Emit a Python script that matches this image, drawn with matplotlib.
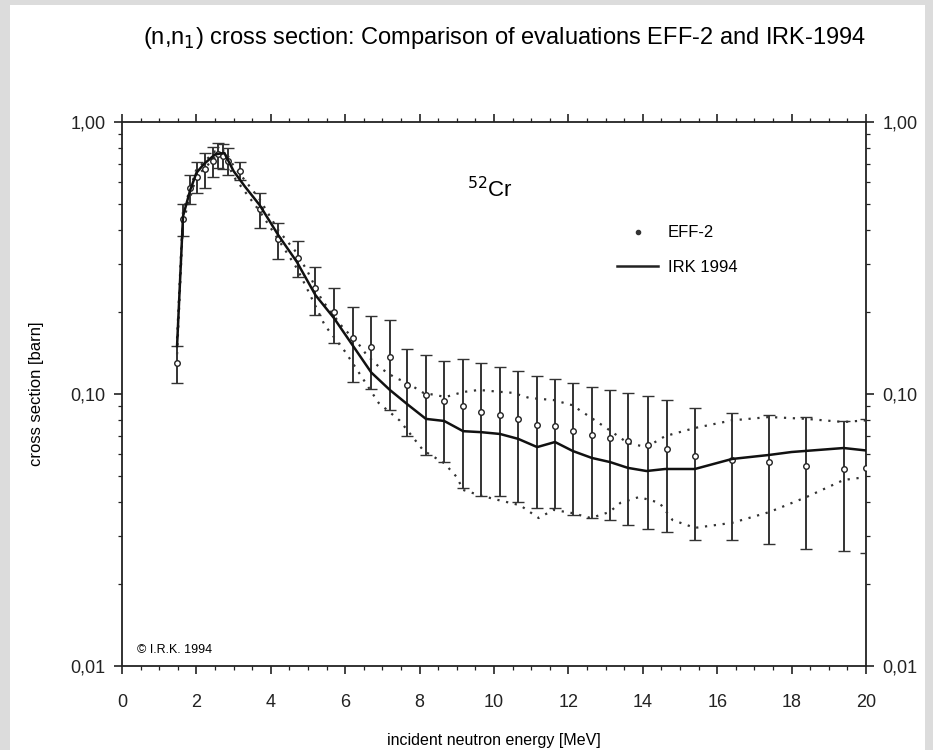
import numpy as np
import matplotlib
matplotlib.use('Agg')
import matplotlib.pyplot as plt
from matplotlib.patches import Rectangle
from matplotlib.lines import Line2D
from matplotlib.ticker import FixedLocator, FixedFormatter, MultipleLocator, LogLocator, NullFormatter

plt.rcParams['font.family'] = ['Liberation Sans', 'DejaVu Sans']

# ----------------------------------------------------------------
# EFF-2 evaluation (points with error bars)
eff_e = [1.48, 1.64, 1.83, 2.01, 2.23, 2.44, 2.58, 2.71, 2.85, 3.17,
         3.7, 4.2, 4.72, 5.2, 5.7, 6.2, 6.7, 7.2, 7.66, 8.17,
         8.66, 9.17, 9.65, 10.16, 10.65, 11.16, 11.64, 12.12, 12.63, 13.12,
         13.6, 14.14, 14.65, 15.4, 16.4, 17.4, 18.4, 19.4, 20.0]
eff_xs = [0.130, 0.440, 0.570, 0.630, 0.670, 0.720, 0.760, 0.750, 0.720, 0.660,
          0.478, 0.370, 0.317, 0.245, 0.200, 0.160, 0.149, 0.137, 0.108, 0.0995,
          0.094, 0.090, 0.086, 0.084, 0.081, 0.077, 0.076, 0.073, 0.0705, 0.069,
          0.067, 0.065, 0.063, 0.059, 0.057, 0.056, 0.0545, 0.053, 0.0535]
eff_err = [0.020, 0.060, 0.070, 0.080, 0.100, 0.090, 0.080, 0.080, 0.080, 0.050,
           0.070, 0.056, 0.048, 0.049, 0.046, 0.049, 0.045, 0.050, 0.038, 0.040,
           0.038, 0.045, 0.044, 0.042, 0.041, 0.039, 0.038, 0.037, 0.0355, 0.0345,
           0.034, 0.033, 0.032, 0.030, 0.028, 0.028, 0.0275, 0.0265, 0.0275]

# IRK 1994 evaluation (solid line)
irk_e = [1.48, 1.64, 1.83, 2.0, 2.2, 2.5, 2.75, 3.0, 3.3, 3.7,
         4.2, 4.7, 5.2, 5.7, 6.2, 6.7, 7.2, 7.7, 8.17, 8.66,
         9.17, 9.65, 10.16, 10.65, 11.16, 11.64, 12.12, 12.63, 13.12, 13.6,
         14.1, 14.6, 15.4, 16.4, 17.4, 18.0, 19.4, 20.0]
irk_xs = [0.150, 0.450, 0.560, 0.650, 0.700, 0.760, 0.770, 0.660, 0.580, 0.495,
          0.384, 0.306, 0.231, 0.190, 0.151, 0.120, 0.1035, 0.091, 0.081, 0.0796,
          0.073, 0.0724, 0.0713, 0.0684, 0.0638, 0.0666, 0.0617, 0.0582, 0.0562, 0.0535,
          0.0521, 0.053, 0.053, 0.0577, 0.0597, 0.0612, 0.0633, 0.062]

# IRK 1994 uncertainty band (dotted lines)
up_e = [1.48, 1.64, 2.0, 2.5, 2.75, 3.0, 3.7, 4.2, 4.7, 5.0,
        5.37, 5.93, 6.34, 6.58, 6.93, 7.33, 7.66, 8.1, 8.7, 9.17,
        9.6, 10.1, 10.5, 10.95, 11.6, 12.1, 12.6, 13.1, 13.6, 14.1,
        14.6, 15.4, 16.4, 17.4, 18.4, 19.4, 20.0]
up_xs = [0.160, 0.470, 0.670, 0.780, 0.790, 0.690, 0.520, 0.400, 0.330, 0.280,
         0.222, 0.176, 0.154, 0.139, 0.125, 0.115, 0.110, 0.101, 0.0975, 0.1017,
         0.1035, 0.102, 0.101, 0.0967, 0.095, 0.091, 0.082, 0.0737, 0.066, 0.0638,
         0.070, 0.075, 0.080, 0.0823, 0.081, 0.0789, 0.080]
lo_e = [1.48, 1.64, 2.0, 2.5, 2.75, 3.0, 3.7, 4.2, 4.7, 5.0,
        5.45, 6.0, 6.5, 6.9, 7.46, 8.1, 8.66, 9.0, 9.17, 9.6,
        10.1, 10.7, 11.2, 11.6, 12.1, 12.6, 13.1, 13.4, 13.9, 14.45,
        14.8, 15.4, 16.4, 17.4, 18.4, 19.4, 20.0]
lo_xs = [0.140, 0.430, 0.630, 0.740, 0.750, 0.630, 0.470, 0.370, 0.290, 0.240,
         0.179, 0.143, 0.1125, 0.0927, 0.080, 0.062, 0.0557, 0.0495, 0.0444, 0.0425,
         0.0408, 0.039, 0.035, 0.0375, 0.0365, 0.035, 0.0368, 0.0398, 0.0418, 0.0398,
         0.0344, 0.0322, 0.0336, 0.0368, 0.0418, 0.0483, 0.0495]

y_ticks = [0.01, 0.1, 1.0]
y_ticklabels = ['0,01', '0,10', '1,00']

# ----------------------------------------------------------------
fig = plt.figure(figsize=(9.33, 7.5), dpi=100)
fig.patch.set_facecolor('#dcdcdc')
fig.add_artist(Rectangle((10 / 933, 0), 915 / 933, 1 - 5 / 750,
                         transform=fig.transFigure, facecolor='white', edgecolor='none', zorder=0))

ax = fig.add_axes([122 / 933, 1 - 666 / 750, 744 / 933, 544 / 750])
ax.set_facecolor('white')

# dotted band
ax.plot(up_e, up_xs, color='#333333', lw=1.6, linestyle=(0, (1, 3)))
ax.plot(lo_e, lo_xs, color='#333333', lw=1.6, linestyle=(0, (1, 3)))

# EFF-2
ax.errorbar(eff_e, eff_xs, yerr=eff_err, fmt='o', ms=4, mfc='white', mec='#222222', mew=1.0,
            ecolor='#333333', elinewidth=1.4, capsize=4, capthick=1.4, zorder=3)

# IRK
ax.plot(irk_e, irk_xs, color='#111111', lw=1.8, zorder=4)

ax.set_yscale('log')
ax.set_xlim(0, 20)
ax.set_ylim(0.01, 1.0)

ax.xaxis.set_major_locator(MultipleLocator(2))
ax.xaxis.set_minor_locator(MultipleLocator(0.5))
ax.yaxis.set_major_locator(FixedLocator(y_ticks))
ax.yaxis.set_major_formatter(FixedFormatter(y_ticklabels))
ax.yaxis.set_minor_locator(LogLocator(base=10, subs=np.arange(2, 10)))
ax.yaxis.set_minor_formatter(NullFormatter())

ax.tick_params(which='both', direction='out', top=True, right=True, labelright=True,
               colors='#222222', labelsize=13)
ax.tick_params(axis='x', which='major', pad=14)
ax.tick_params(axis='y', which='major', pad=6)
ax.tick_params(which='major', length=6, width=1.2)
ax.tick_params(which='minor', length=3, width=0.9)
for s in ax.spines.values():
    s.set_linewidth(1.3)
    s.set_color('#222222')

ax.set_xlabel('incident neutron energy [MeV]', fontsize=11.5, labelpad=16)
ax.set_ylabel('cross section [barn]', fontsize=12, labelpad=19)

fig.text(505 / 933, 1 - 38 / 750, r'(n,n$_1$) cross section: Comparison of evaluations EFF-2 and IRK-1994',
         ha='center', va='center', fontsize=17)

ax.text(0.495, 0.875, r'$^{52}$Cr', transform=ax.transAxes, fontsize=16, ha='center', va='center')
ax.text(0.02, 0.03, '\u00a9 I.R.K. 1994', transform=ax.transAxes, fontsize=9, ha='left', va='center')

handles = [Line2D([], [], marker='.', ls='none', color='#333333', ms=6),
           Line2D([], [], color='#222222', lw=1.8)]
ax.legend(handles, ['EFF-2', 'IRK 1994'], loc='upper left', bbox_to_anchor=(0.665, 0.81),
          frameon=False, fontsize=12, handlelength=2.5, handletextpad=0.55,
          labelspacing=1.15, borderpad=0, borderaxespad=0)

fig.savefig('out.png', dpi=100, facecolor=fig.get_facecolor())
